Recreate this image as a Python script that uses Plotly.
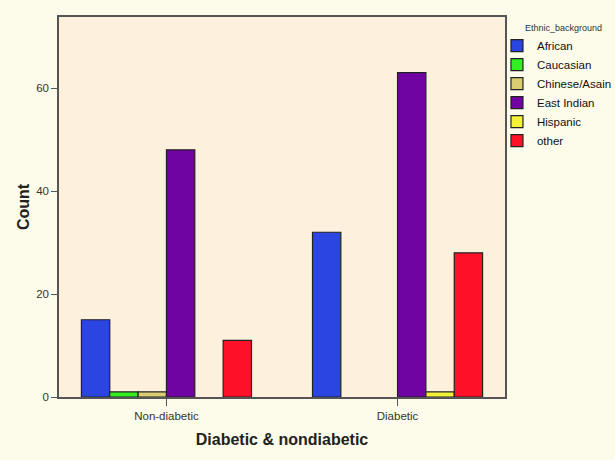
import plotly.graph_objects as go

groups = ["Non-diabetic", "Diabetic"]
ethnic = ["African", "Caucasian", "Chinese/Asain", "East Indian", "Hispanic", "other"]
african = [15, 32]
caucasian = [1, None]
chinese_asain = [1, None]
east_indian = [48, 63]
hispanic = [None, 1]
other = [11, 28]
colors = ["#2a45e2", "#33ee22", "#d9cc72", "#7004a2", "#f2f23a", "#fe1028"]
y_ticks = [0, 20, 40, 60]

series = [african, caucasian, chinese_asain, east_indian, hispanic, other]

fig = go.Figure()
for name, vals, col in zip(ethnic, series, colors):
    fig.add_trace(go.Bar(
        x=groups, y=vals, name=name,
        marker=dict(color=col, line=dict(color="#222222", width=1.2)),
    ))

fig.add_annotation(
    text="Ethnic_background", xref="paper", yref="paper",
    x=1.040, y=0.971, xanchor="left", yanchor="middle", showarrow=False,
    font=dict(size=9, color="#333333"),
)

fig.update_layout(
    width=615, height=460,
    barmode="group", bargap=0.264, bargroupgap=0,
    paper_bgcolor="#fdfbe9", plot_bgcolor="#fdf0dc",
    margin=dict(l=59, r=110, t=17, b=63, autoexpand=False),
    font=dict(family="Liberation Sans, Arial", color="#222222"),
    showlegend=True,
    legend=dict(
        x=0.982, y=0.963, xanchor="left", yanchor="top",
        bgcolor="rgba(0,0,0,0)",
        font=dict(size=11.5, color="#111111"),
        tracegroupgap=0, itemwidth=30,
    ),
    xaxis=dict(
        type="category", range=[-0.465, 1.465], automargin=False,
        showline=True, linecolor="#555555", linewidth=1.5, mirror=True,
        ticks="outside", ticklen=7, tickcolor="#555555",
        tickfont=dict(size=11.5, color="#333333"),
        showgrid=False,
        title=dict(text="<b>Diabetic &amp; nondiabetic</b>", font=dict(size=16, color="#222222"), standoff=13),
    ),
    yaxis=dict(
        range=[0, 73.8], tickvals=y_ticks, automargin=False,
        showline=True, linecolor="#555555", linewidth=1.5, mirror=True,
        ticks="outside", ticklen=6, tickcolor="#555555",
        tickfont=dict(size=11.5, color="#333333"),
        showgrid=False, zeroline=False,
        title=dict(text="<b>Count</b>", font=dict(size=16, color="#222222"), standoff=3),
    ),
)

fig.write_html(
    "out.html",
    config={"displayModeBar": False},
    post_script="document.body.style.margin='0px';document.body.style.background='#fdfbe9';",
)
